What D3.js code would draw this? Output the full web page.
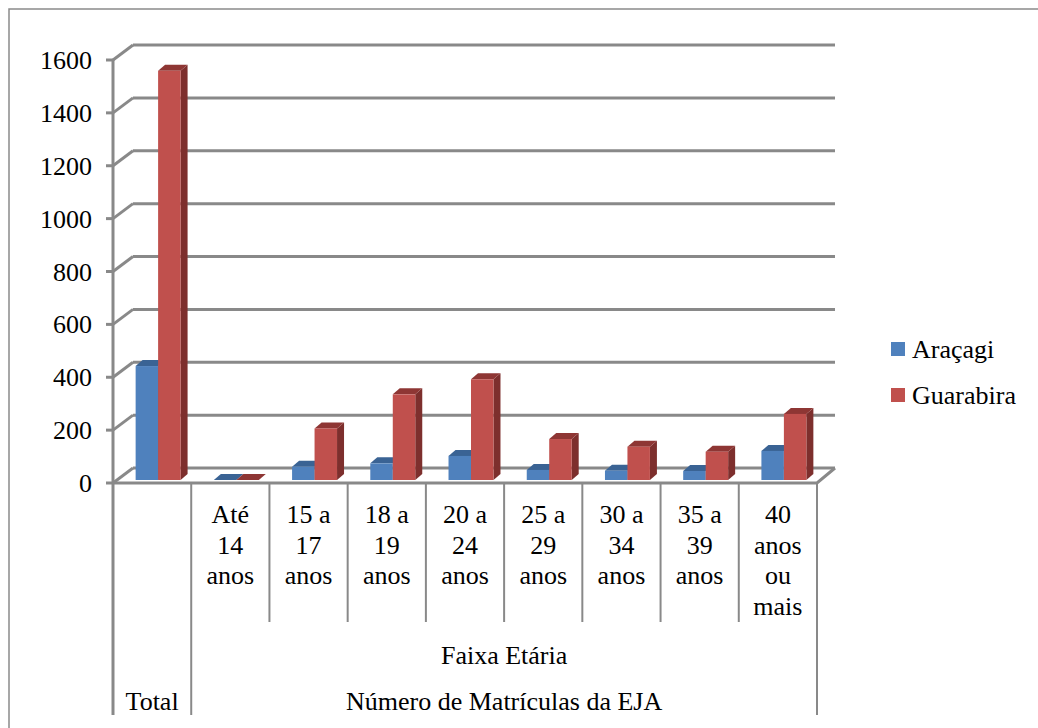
<!DOCTYPE html>
<html>
<head>
<meta charset="utf-8">
<script src="https://cdn.jsdelivr.net/npm/d3@7"></script>
<style>
  body { margin: 0; background: #fff; }
</style>
</head>
<body>
<div id="chart"></div>
<script>
// data
const categories = ['Total', 'Até 14 anos', '15 a 17 anos', '18 a 19 anos', '20 a 24 anos',
  '25 a 29 anos', '30 a 34 anos', '35 a 39 anos', '40 anos ou mais'];
const categoryLines = [[], ['Até', '14', 'anos'], ['15 a', '17', 'anos'], ['18 a', '19', 'anos'],
  ['20 a', '24', 'anos'], ['25 a', '29', 'anos'], ['30 a', '34', 'anos'], ['35 a', '39', 'anos'],
  ['40', 'anos', 'ou', 'mais']];
const seriesNames = ['Araçagi', 'Guarabira'];
const aracagi = [431, 0, 50, 63, 91, 38, 35, 34, 110];
const guarabira = [1548, 0, 195, 324, 381, 155, 126, 107, 250];
const yTicks = [0, 200, 400, 600, 800, 1000, 1200, 1400, 1600];

const width = 1038;
const height = 728;
const fontSize = 26;
const fontFamily = "'Liberation Serif', 'DejaVu Serif', serif";
const gridColor = '#898989';

const colors = {
  'Araçagi': { front: '#4f81bd', top: '#3a6394', side: '#36598a' },
  'Guarabira': { front: '#c0504d', top: '#8e3634', side: '#7d2f2d' }
};

const svg = d3.select('#chart').append('svg')
  .attr('width', width)
  .attr('height', height)
  .attr('font-family', fontFamily)
  .style('font-family', fontFamily);

// outer frame (only top and left visible)
svg.append('path')
  .attr('d', 'M9,728 V9 H1038')
  .attr('fill', 'none')
  .attr('stroke', '#8a8a8a')
  .attr('stroke-width', 1.5);

const x = d3.scaleBand()
  .domain(categories)
  .range([113, 817]);

const xs = d3.scaleBand()
  .domain(seriesNames)
  .range([0, x.bandwidth()])
  .paddingOuter(0.74);

const y = d3.scaleLinear()
  .domain([0, 1600])
  .range([483, 60]);

// depth of the 3d wall
const depthX = 20;
const depthY = -15;
// bars stand a bit behind the front edge
const barShiftX = 6;
const barShiftY = -3;
const sideX = 7;
const sideY = -6;

const grid = svg.append('g').attr('class', 'grid');

yTicks.forEach((t) => {
  const yy = y(t);
  // back wall line
  grid.append('line')
    .attr('x1', 113 + depthX).attr('x2', 835)
    .attr('y1', yy + depthY).attr('y2', yy + depthY)
    .attr('stroke', gridColor).attr('stroke-width', 3);
  // side diagonal
  grid.append('line')
    .attr('x1', 113).attr('x2', 113 + depthX)
    .attr('y1', yy).attr('y2', yy + depthY)
    .attr('stroke', gridColor).attr('stroke-width', 3);
  // tick
  grid.append('line')
    .attr('x1', 106).attr('x2', 113)
    .attr('y1', yy).attr('y2', yy)
    .attr('stroke', gridColor).attr('stroke-width', 3);
  svg.append('text')
    .attr('x', 92)
    .attr('y', yy)
    .attr('dy', '0.35em')
    .attr('text-anchor', 'end')
    .attr('font-size', fontSize)
    .text(t);
});

// floor front edge and right diagonal
grid.append('path')
  .attr('d', `M113,${y(0)} H817 L835,${y(0) + depthY}`)
  .attr('fill', 'none')
  .attr('stroke', gridColor)
  .attr('stroke-width', 3);

// vertical axis
grid.append('line')
  .attr('x1', 113).attr('x2', 113)
  .attr('y1', y(1600)).attr('y2', 715)
  .attr('stroke', gridColor).attr('stroke-width', 3);

// bars
const bars = svg.append('g').attr('class', 'bars');
categories.forEach((c, i) => {
  [aracagi[i], guarabira[i]].forEach((v, s) => {
    const name = seriesNames[s];
    const x0 = x(c) + xs(name) + barShiftX;
    const x1 = x0 + xs.bandwidth();
    const yb = y(0) + barShiftY;
    const yt = y(v) + barShiftY;
    const g = bars.append('g');
    g.append('path')
      .attr('d', `M${x1},${yt} L${x1 + sideX},${yt + sideY} L${x1 + sideX},${yb + sideY} L${x1},${yb} Z`)
      .attr('fill', colors[name].side);
    g.append('path')
      .attr('d', `M${x0},${yt} L${x0 + sideX},${yt + sideY} L${x1 + sideX},${yt + sideY} L${x1},${yt} Z`)
      .attr('fill', colors[name].top);
    g.append('rect')
      .attr('x', x0)
      .attr('y', yt)
      .attr('width', xs.bandwidth())
      .attr('height', Math.max(0, yb - yt))
      .attr('fill', colors[name].front);
  });
});

// table under the axis
const table = svg.append('g').attr('class', 'table');
categories.forEach((c, i) => {
  const edge = x(c);
  table.append('line')
    .attr('x1', edge).attr('x2', edge)
    .attr('y1', y(0)).attr('y2', i <= 1 ? 715 : 622)
    .attr('stroke', gridColor).attr('stroke-width', 2);
  categoryLines[i].forEach((ln, k) => {
    table.append('text')
      .attr('x', edge + x.bandwidth() / 2)
      .attr('y', 514 + k * 30.5)
      .attr('dy', '0.35em')
      .attr('text-anchor', 'middle')
      .attr('font-size', fontSize)
      .text(ln);
  });
});
table.append('line')
  .attr('x1', 817).attr('x2', 817)
  .attr('y1', y(0)).attr('y2', 715)
  .attr('stroke', gridColor).attr('stroke-width', 2);

const groupCenter = (x(categories[1]) + 817) / 2;
table.append('text')
  .attr('x', groupCenter).attr('y', 655).attr('dy', '0.35em')
  .attr('text-anchor', 'middle').attr('font-size', fontSize)
  .text('Faixa Etária');
table.append('text')
  .attr('x', groupCenter).attr('y', 701).attr('dy', '0.35em')
  .attr('text-anchor', 'middle').attr('font-size', fontSize)
  .text('Número de Matrículas da EJA');
table.append('text')
  .attr('x', x('Total') + x.bandwidth() / 2).attr('y', 701).attr('dy', '0.35em')
  .attr('text-anchor', 'middle').attr('font-size', fontSize)
  .text('Total');

// legend
const legend = svg.append('g').attr('class', 'legend');
seriesNames.forEach((name, i) => {
  const ly = 349 + i * 46;
  legend.append('rect')
    .attr('x', 891).attr('y', ly - 7)
    .attr('width', 14).attr('height', 14)
    .attr('fill', colors[name].front);
  legend.append('text')
    .attr('x', 912).attr('y', ly).attr('dy', '0.35em')
    .attr('font-size', fontSize)
    .text(name);
});
</script>
</body>
</html>
